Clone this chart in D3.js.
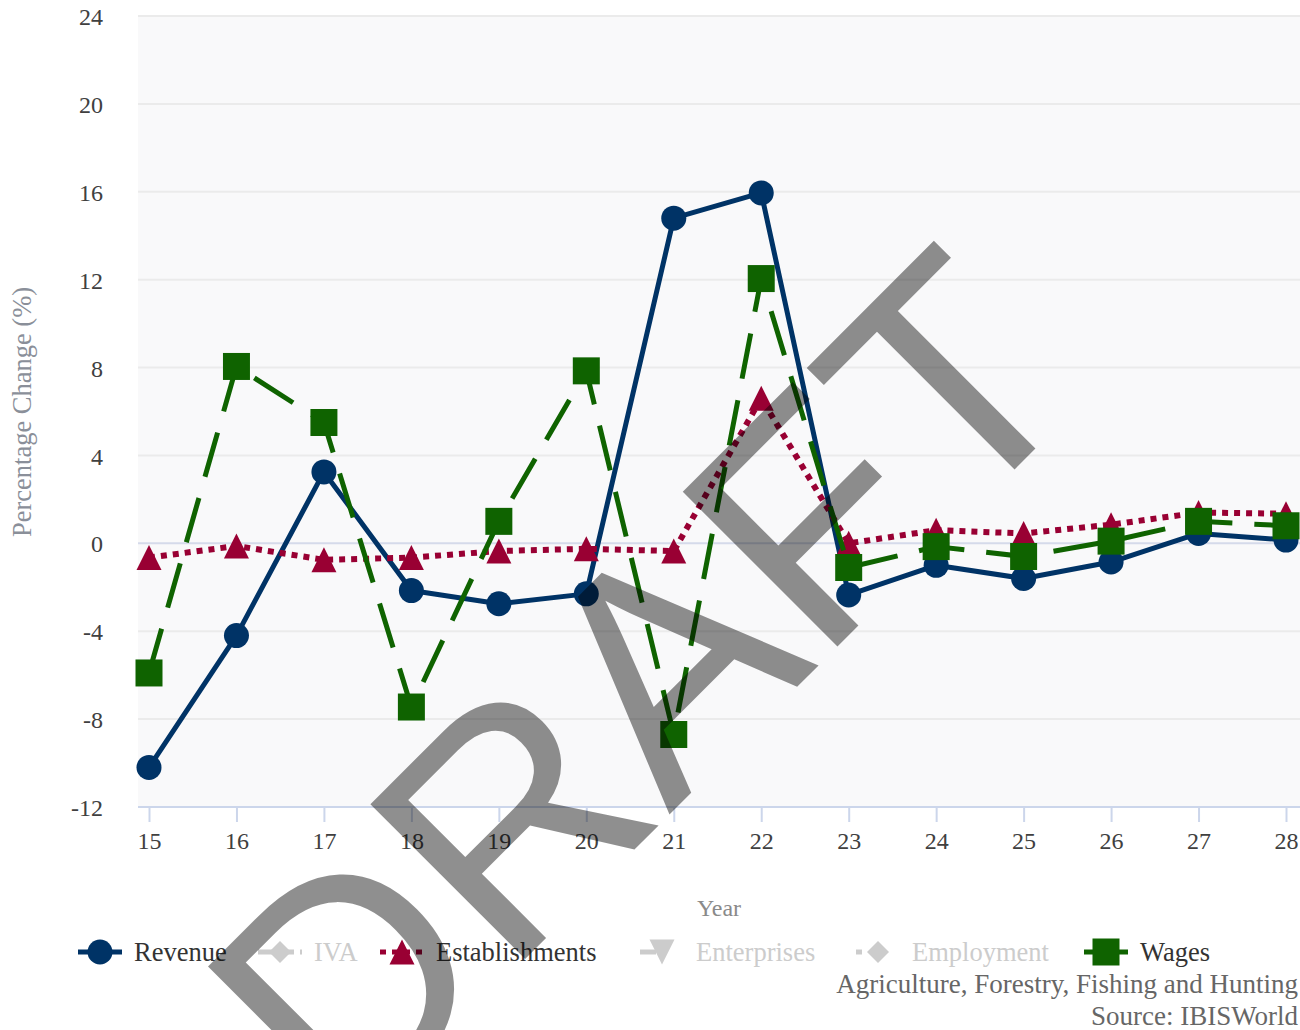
<!DOCTYPE html>
<html>
<head>
<meta charset="utf-8">
<script src="https://cdn.jsdelivr.net/npm/d3@7"></script>
<style>
  body { margin: 0; background: #fff; }
  text { font-family: "Liberation Serif", "Times New Roman", serif; }
</style>
</head>
<body>
<svg id="chart" width="1300" height="1030"></svg>
<script>
// dados
var years = ["15", "16", "17", "18", "19", "20", "21", "22", "23", "24", "25", "26", "27", "28"];
var revenue = [-10.2, -4.2, 3.25, -2.15, -2.75, -2.3, 14.8, 15.95, -2.35, -1.0, -1.6, -0.85, 0.45, 0.15];
var establishments = [-0.65, -0.12, -0.75, -0.65, -0.35, -0.25, -0.35, 6.6, 0.0, 0.6, 0.45, 0.85, 1.4, 1.35];
var wages = [-5.9, 8.05, 5.5, -7.45, 1.0, 7.85, -8.7, 12.05, -1.1, -0.15, -0.6, 0.1, 1.0, 0.8];
var yTicks = [-12, -8, -4, 0, 4, 8, 12, 16, 20, 24];
var legendNames = ["Revenue", "IVA", "Establishments", "Enterprises", "Employment", "Wages"];

var svg = d3.select("#chart");

var plot = {left: 138, right: 1300, top: 16, bottom: 807};

var xScale = d3.scalePoint()
  .domain(years)
  .range([149, 1286]);

var yScale = d3.scaleLinear()
  .domain([-12, 24])
  .range([plot.bottom, plot.top]);

// fundo da area do grafico
svg.append("rect")
  .attr("x", plot.left)
  .attr("y", plot.top)
  .attr("width", plot.right - plot.left)
  .attr("height", plot.bottom - plot.top)
  .attr("fill", "#f9f9fa");

// linhas de grade
svg.append("g")
  .selectAll("line")
  .data(yTicks.filter(function(d) { return d != -12; }))
  .enter()
  .append("line")
  .attr("x1", plot.left)
  .attr("x2", plot.right)
  .attr("y1", function(d) { return yScale(d); })
  .attr("y2", function(d) { return yScale(d); })
  .attr("stroke", function(d) { return d == 0 ? "#d5daea" : "#ebebeb"; })
  .attr("stroke-width", 2);

// eixo y (so os rotulos)
var yAxis = svg.append("g")
  .attr("transform", "translate(" + plot.left + ",0)")
  .call(d3.axisLeft(yScale)
    .tickValues(yTicks)
    .tickFormat(function(d) { return String(d); })
    .tickSize(0)
    .tickPadding(35));
yAxis.select(".domain").remove();
yAxis.selectAll("text")
  .attr("font-family", "Liberation Serif")
  .attr("font-size", 24)
  .attr("fill", "#404040")
  .attr("dy", "0.36em");

// eixo x
var xAxis = svg.append("g")
  .attr("transform", "translate(0," + plot.bottom + ")")
  .call(d3.axisBottom(xScale).tickSize(15).tickPadding(10).tickSizeOuter(0));
xAxis.select(".domain")
  .attr("d", "M" + plot.left + ",0H" + plot.right)
  .attr("stroke", "#ccd6eb")
  .attr("stroke-width", 2);
xAxis.selectAll(".tick line")
  .attr("stroke", "#ccd6eb")
  .attr("stroke-width", 2);
xAxis.selectAll("text")
  .attr("font-family", "Liberation Serif")
  .attr("font-size", 24)
  .attr("fill", "#404040");

// titulos dos eixos
svg.append("text")
  .attr("transform", "translate(31,412) rotate(-90)")
  .attr("text-anchor", "middle")
  .attr("font-size", 26.5)
  .attr("fill", "#8a8f99")
  .text("Percentage Change (%)");

svg.append("text")
  .attr("x", 719)
  .attr("y", 916)
  .attr("text-anchor", "middle")
  .attr("font-size", 24)
  .attr("fill", "#8a8a8a")
  .text("Year");

// simbolos
function markerPath(type, s) {
  var h = s / 2;
  if (type == "circle") {
    return "M" + (-h) + ",0A" + h + "," + h + " 0 1,0 " + h + ",0A" + h + "," + h + " 0 1,0 " + (-h) + ",0Z";
  } else if (type == "square") {
    return "M" + (-h) + "," + (-h) + "H" + h + "V" + h + "H" + (-h) + "Z";
  } else if (type == "triangle") {
    return "M0," + (-h) + "L" + h + "," + h + "L" + (-h) + "," + h + "Z";
  } else if (type == "triangle-down") {
    return "M" + (-h) + "," + (-h) + "L" + h + "," + (-h) + "L0," + h + "Z";
  } else {
    return "M0," + (-h) + "L" + h + ",0L0," + h + "L" + (-h) + ",0Z";
  }
}

var seriesList = [
  {name: "Revenue", values: revenue, color: "#003366", dash: null, width: 5, marker: "circle", size: 25},
  {name: "Establishments", values: establishments, color: "#990033", dash: "6,6", width: 6, marker: "triangle", size: 25},
  {name: "Wages", values: wages, color: "#0f6300", dash: "46,22", width: 5, marker: "square", size: 27}
];

var line = d3.line()
  .x(function(d, i) { return xScale(years[i]); })
  .y(function(d) { return yScale(d); });

seriesList.forEach(function(s) {
  var g = svg.append("g");
  g.append("path")
    .datum(s.values)
    .attr("d", line)
    .attr("fill", "none")
    .attr("stroke", s.color)
    .attr("stroke-width", s.width)
    .attr("stroke-dasharray", s.dash)
    .attr("stroke-linejoin", "round");
  g.selectAll(".marker")
    .data(s.values)
    .enter()
    .append("path")
    .attr("class", "marker")
    .attr("transform", function(d, i) { return "translate(" + xScale(years[i]) + "," + yScale(d) + ")"; })
    .attr("d", markerPath(s.marker, s.size))
    .attr("fill", s.color);
});

// legenda
var legendX = [78, 258, 380, 640, 856, 1084];
var legendStyle = [
  {color: "#003366", dash: null, marker: "circle", size: 25, text: "#333"},
  {color: "#cccccc", dash: "36,6,5,6", marker: "diamond", size: 22, text: "#cccccc"},
  {color: "#990033", dash: "6,6", marker: "triangle", size: 25, text: "#333"},
  {color: "#cccccc", dash: "16,40", marker: "triangle-down", size: 25, text: "#cccccc"},
  {color: "#cccccc", dash: "6,50", marker: "diamond", size: 22, text: "#cccccc"},
  {color: "#0f6300", dash: null, marker: "square", size: 27, text: "#333"}
];
var legendY = 952;

var legend = svg.append("g");
legendNames.forEach(function(name, i) {
  var st = legendStyle[i];
  var x0 = legendX[i];
  legend.append("line")
    .attr("x1", x0)
    .attr("x2", x0 + 44)
    .attr("y1", legendY)
    .attr("y2", legendY)
    .attr("stroke", st.color)
    .attr("stroke-width", 5)
    .attr("stroke-dasharray", st.dash);
  legend.append("path")
    .attr("transform", "translate(" + (x0 + 22) + "," + legendY + ")")
    .attr("d", markerPath(st.marker, st.size))
    .attr("fill", st.color);
  legend.append("text")
    .attr("x", x0 + 56)
    .attr("y", legendY + 9)
    .attr("font-size", 26.5)
    .attr("fill", st.text)
    .text(name);
});

// creditos
svg.append("text")
  .attr("x", 1298)
  .attr("y", 993)
  .attr("text-anchor", "end")
  .attr("font-size", 27)
  .attr("fill", "#666")
  .text("Agriculture, Forestry, Fishing and Hunting");

svg.append("text")
  .attr("x", 1298)
  .attr("y", 1025)
  .attr("text-anchor", "end")
  .attr("font-size", 27)
  .attr("fill", "#666")
  .text("Source: IBISWorld");

// marca d'agua
svg.append("text")
  .attr("transform", "translate(719,765) rotate(-45)")
  .attr("text-anchor", "middle")
  .style("font-family", "'Liberation Sans', Arial, sans-serif")
  .attr("font-size", 318)
  .attr("fill", "#000")
  .attr("fill-opacity", 0.44)
  .text("DRAFT");
</script>
</body>
</html>
